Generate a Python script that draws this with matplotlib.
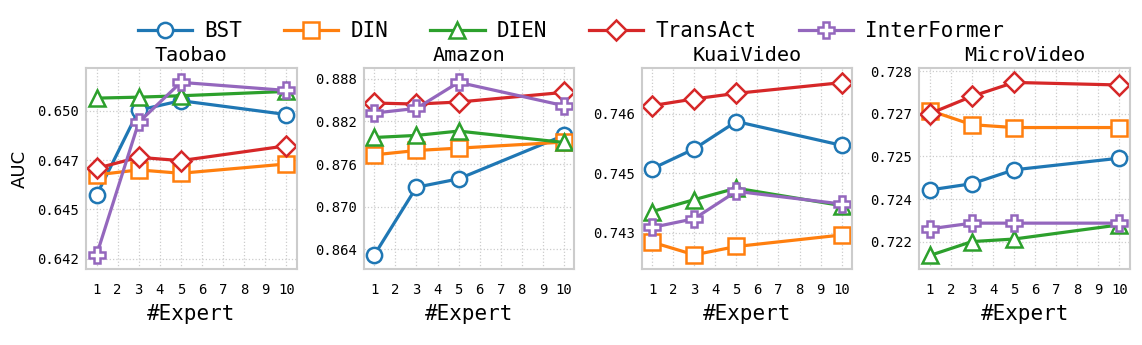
import matplotlib.pyplot as plt
import numpy as np

# Data: AUC vs number of experts on four datasets
experts = [1, 3, 5, 10]
models = ['BST', 'DIN', 'DIEN', 'TransAct', 'InterFormer']
datasets = ['Taobao', 'Amazon', 'KuaiVideo', 'MicroVideo']

taobao = {
    'BST':         [0.64571, 0.65003, 0.65051, 0.64981],
    'DIN':         [0.64675, 0.64700, 0.64683, 0.64730],
    'DIEN':        [0.65064, 0.65069, 0.65076, 0.65098],
    'TransAct':    [0.64708, 0.64764, 0.64747, 0.64822],
    'InterFormer': [0.64268, 0.64941, 0.65144, 0.65103],
}
amazon = {
    'BST':         [0.86320, 0.87274, 0.87391, 0.88002],
    'DIN':         [0.87729, 0.87790, 0.87823, 0.87908],
    'DIEN':        [0.87973, 0.88002, 0.88063, 0.87903],
    'TransAct':    [0.88457, 0.88443, 0.88471, 0.88607],
    'InterFormer': [0.88316, 0.88382, 0.88748, 0.88420],
}
kuaivideo = {
    'BST':         [0.74461, 0.74511, 0.74580, 0.74520],
    'DIN':         [0.74276, 0.74244, 0.74265, 0.74294],
    'DIEN':        [0.74353, 0.74383, 0.74412, 0.74368],
    'TransAct':    [0.74620, 0.74637, 0.74651, 0.74678],
    'InterFormer': [0.74313, 0.74335, 0.74404, 0.74372],
}
microvideo = {
    'BST':         [0.72382, 0.72404, 0.72453, 0.72494],
    'DIN':         [0.72662, 0.72612, 0.72602, 0.72602],
    'DIEN':        [0.72151, 0.72200, 0.72209, 0.72259],
    'TransAct':    [0.72651, 0.72712, 0.72761, 0.72752],
    'InterFormer': [0.72245, 0.72265, 0.72265, 0.72265],
}
all_data = [taobao, amazon, kuaivideo, microvideo]

# y ticks and their labels for each panel
yticks = [
    [0.6425, 0.645, 0.6475, 0.650],
    [0.864, 0.870, 0.876, 0.882, 0.888],
    [0.743, 0.7445, 0.746],
    [0.722, 0.7235, 0.725, 0.7265, 0.728],
]
yticklabels = [
    ['0.642', '0.645', '0.647', '0.650'],
    ['0.864', '0.870', '0.876', '0.882', '0.888'],
    ['0.743', '0.745', '0.746'],
    ['0.722', '0.724', '0.725', '0.727', '0.728'],
]
ylims = [(0.64197, 0.65217), (0.86123, 0.88950), (0.74208, 0.74715), (0.72103, 0.72812)]

colors = ['#1f77b4', '#ff7f0e', '#2ca02c', '#d62728', '#9467bd']
markers = ['o', 's', '^', 'D', 'P']

plt.rcParams['font.family'] = 'DejaVu Sans Mono'

fig, axes = plt.subplots(1, 4, figsize=(11.42, 3.45), dpi=100)
plt.subplots_adjust(left=0.0753, right=0.9895, top=0.803, bottom=0.220, wspace=0.318)

for i, ax in enumerate(axes):
    data = all_data[i]
    for m, c, mk in zip(models, colors, markers):
        ax.plot(experts, data[m], color=c, marker=mk, linewidth=2.3,
                markersize=11 if mk != 'D' else 10, markerfacecolor='white',
                markeredgecolor=c, markeredgewidth=1.8, label=m)
    ax.set_title(datasets[i], fontsize=14.5, pad=5)
    ax.set_xlim(0.5, 10.5)
    ax.set_xticks(range(1, 11))
    ax.set_ylim(*ylims[i])
    ax.set_yticks(yticks[i])
    ax.set_yticklabels(yticklabels[i])
    ax.tick_params(length=0, labelsize=10)
    ax.tick_params(axis='y', pad=5)
    ax.tick_params(axis='x', pad=10)
    ax.set_xlabel('#Expert', fontsize=15, labelpad=5)
    ax.grid(True, linestyle=':', color='#cccccc', linewidth=0.9)
    ax.set_axisbelow(True)
    for s in ax.spines.values():
        s.set_color('#cccccc')
        s.set_linewidth(1.5)

axes[0].set_ylabel('AUC', fontsize=13, family='DejaVu Sans', labelpad=6)

handles, labels = axes[0].get_legend_handles_labels()
fig.legend(handles, labels, loc='center', bbox_to_anchor=(0.5, 0.91), ncol=5,
           frameon=False, fontsize=15, handlelength=2.6, handletextpad=0.6,
           columnspacing=2.0)

plt.savefig('out.png', dpi=100)
